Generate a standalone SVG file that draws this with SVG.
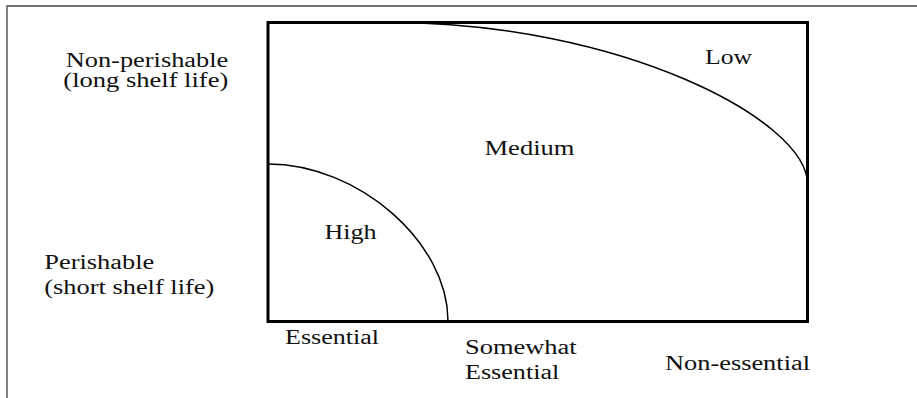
<svg xmlns="http://www.w3.org/2000/svg" width="917" height="398" viewBox="0 0 917 398">
<style>
.lbl{font-family:"Liberation Serif","Times New Roman",serif;font-size:20.5px;fill:#111}
.frame{fill:none;stroke:#444;stroke-width:1.3}
.box{fill:none;stroke:#000;stroke-width:3}
.curve{fill:none;stroke:#000;stroke-width:1.5}
</style>
<rect x="0" y="0" width="917" height="398" fill="#fff"/>
<g id="outer-frame">
<path class="frame" d="M7,398 V6 H917"/>
</g>
<g id="chart">
<rect class="box" x="268" y="22.5" width="539.5" height="299"/>
<path id="high-boundary" class="curve" d="M268,164 C358,164 448,242 448,321"/>
<path id="low-boundary" class="curve" d="M390,22.5 C620,22.5 807.5,120 807.5,184"/>
</g>
<g id="zone-labels">
<text class="lbl" x="705" y="64" textLength="47" lengthAdjust="spacingAndGlyphs">Low</text>
<text class="lbl" x="484.5" y="155" textLength="90" lengthAdjust="spacingAndGlyphs">Medium</text>
<text class="lbl" x="324.5" y="238.5" textLength="52" lengthAdjust="spacingAndGlyphs">High</text>
</g>
<g id="y-labels">
<text class="lbl" x="65.7" y="66.7" textLength="162.6" lengthAdjust="spacingAndGlyphs">Non-perishable</text>
<text class="lbl" x="63.3" y="87.3" textLength="165" lengthAdjust="spacingAndGlyphs">(long shelf life)</text>
<text class="lbl" x="44.3" y="269" textLength="110" lengthAdjust="spacingAndGlyphs">Perishable</text>
<text class="lbl" x="44.3" y="294" textLength="170" lengthAdjust="spacingAndGlyphs">(short shelf life)</text>
</g>
<g id="x-labels">
<text class="lbl" x="285" y="344.3" textLength="94" lengthAdjust="spacingAndGlyphs">Essential</text>
<text class="lbl" x="465" y="354" textLength="111.7" lengthAdjust="spacingAndGlyphs">Somewhat</text>
<text class="lbl" x="465" y="379" textLength="94.3" lengthAdjust="spacingAndGlyphs">Essential</text>
<text class="lbl" x="665" y="370" textLength="145" lengthAdjust="spacingAndGlyphs">Non-essential</text>
</g>
</svg>
